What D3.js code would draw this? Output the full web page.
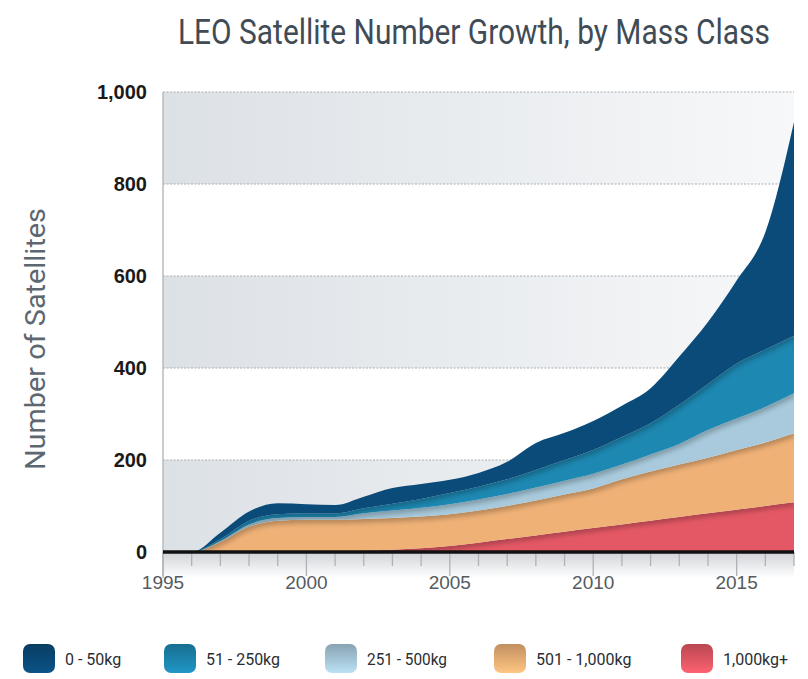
<!DOCTYPE html>
<html>
<head>
<meta charset="utf-8">
<script src="https://cdn.jsdelivr.net/npm/d3@7"></script>
<style>
  body { margin: 0; background: #fff; }
  svg { display: block; }
</style>
</head>
<body>
<svg width="808" height="679"></svg>
<script>
// years on the x axis
const years = d3.range(1995, 2018)

// satellites per mass class, per year
const heavy  = [0, 0, 0, 0, 0, 0, 0, 3, 5, 8, 13, 20, 28, 36, 44, 52, 60, 68, 76, 84, 92, 100, 108]
const large  = [0, 0, 22, 55, 68, 70, 70, 69, 69, 69, 69, 70, 72, 76, 81, 86, 98, 107, 114, 121, 130, 138, 150]
const medium = [0, 0, 2, 5, 6, 6, 6, 12, 16, 19, 22, 24, 26, 28, 30, 32, 32, 37, 45, 60, 68, 77, 87]
const small  = [0, 0, 4, 8, 8, 8, 8, 11, 15, 19, 24, 28, 32, 38, 45, 52, 60, 68, 85, 100, 120, 125, 125]
const tiny   = [0, 0, 14, 20, 24, 20, 18, 25, 34, 33, 29, 30, 38, 59, 59, 63, 68, 76, 105, 135, 180, 255, 465]

const yTicks = [0, 200, 400, 600, 800, 1000]
const xTicks = [1995, 2000, 2005, 2010, 2015]

const keys = ['heavy', 'large', 'medium', 'small', 'tiny']
const labels = ['1,000kg+', '501 - 1,000kg', '251 - 500kg', '51 - 250kg', '0 - 50kg']
const colors = ['#e45865', '#efb176', '#a8cadc', '#1d88b2', '#0a4b7a']

const table = years.map((yr, i) => ({
  year: yr, heavy: heavy[i], large: large[i], medium: medium[i], small: small[i], tiny: tiny[i]
}))

const svg = d3.select('svg')
const plotLeft = 163, plotRight = 794, plotTop = 92, plotBottom = 552
const narrow = 'Roboto, "Liberation Sans", sans-serif'

const x = d3.scaleLinear().domain([1995, 2017]).range([plotLeft, plotRight])
const y = d3.scaleLinear().domain([0, 1000]).range([plotBottom, plotTop])

const defs = svg.append('defs')

let band = defs.append('linearGradient').attr('id', 'band')
band.append('stop').attr('offset', '0%').attr('stop-color', '#dce1e6')
band.append('stop').attr('offset', '100%').attr('stop-color', '#f7f8f9')

let under = defs.append('linearGradient').attr('id', 'under')
    .attr('x1', 0).attr('x2', 0).attr('y1', 0).attr('y2', 1)
under.append('stop').attr('offset', '0%').attr('stop-color', '#cfd3d7')
under.append('stop').attr('offset', '100%').attr('stop-color', '#ffffff')

defs.append('filter').attr('id', 'blur')
    .attr('x', '-10%').attr('y', '-50%').attr('width', '120%').attr('height', '200%')
  .append('feGaussianBlur').attr('stdDeviation', 2.5)

colors.forEach((c, i) => {
  let g = defs.append('linearGradient').attr('id', 'sw' + i)
      .attr('x1', 0).attr('x2', 0).attr('y1', 0).attr('y2', 1)
  g.append('stop').attr('offset', '0%').attr('stop-color', d3.color(c).darker(0.6))
  g.append('stop').attr('offset', '100%').attr('stop-color', d3.color(c).brighter(0.3))
})

// squeeze a text horizontally so it takes a given width (a condensed look)
function condense(sel, width) {
  let natural = sel.node().getComputedTextLength()
  let k = Math.min(1, width / natural)
  let x0 = +sel.attr('x')
  sel.attr('transform', 'translate(' + x0 + ',0) scale(' + k + ',1) translate(' + (-x0) + ',0)')
}

// title
let title = svg.append('text')
    .attr('x', 178).attr('y', 44)
    .attr('font-family', narrow)
    .attr('font-size', 35)
    .attr('fill', '#404b55')
    .text('LEO Satellite Number Growth, by Mass Class')
condense(title, 592)

// grey bands: 1000-800, 600-400, 200-0
;[[800, 1000], [400, 600], [0, 200]].forEach(b => {
  svg.append('rect')
      .attr('x', plotLeft).attr('width', plotRight - plotLeft)
      .attr('y', y(b[1])).attr('height', y(b[0]) - y(b[1]))
      .attr('fill', 'url(#band)')
})

// shadow strip under the axis
svg.append('rect')
    .attr('x', plotLeft).attr('width', plotRight - plotLeft)
    .attr('y', plotBottom).attr('height', 26)
    .attr('fill', 'url(#under)')

// dashed grid
svg.append('g').selectAll('line')
  .data(yTicks.filter(d => d > 0))
  .enter().append('line')
    .attr('x1', plotLeft).attr('x2', plotRight)
    .attr('y1', d => y(d)).attr('y2', d => y(d))
    .attr('stroke', '#a9adb2')
    .attr('stroke-width', 1.2)
    .attr('stroke-dasharray', '2,1.5')

// left axis line
svg.append('line')
    .attr('x1', plotLeft).attr('x2', plotLeft)
    .attr('y1', plotTop).attr('y2', plotBottom + 26)
    .attr('stroke', '#b8bcc0').attr('stroke-width', 1.5)

// stacked areas
const series = d3.stack().keys(keys)(table)

const area = d3.area()
    .x(d => x(d.data.year))
    .y0(d => y(d[0]))
    .y1(d => y(d[1]))
    .curve(d3.curveMonotoneX)

const topLine = d3.line()
    .x(d => x(d.data.year))
    .y(d => y(d[1]))
    .curve(d3.curveMonotoneX)

series.forEach((s, i) => {
  defs.append('clipPath').attr('id', 'clip' + i)
    .append('path').attr('d', area(s))
})

let layers = svg.append('g')
series.forEach((s, i) => {
  layers.append('path')
      .attr('d', area(s))
      .attr('fill', colors[i])
  if (i < series.length - 1) {
    layers.append('g').attr('clip-path', 'url(#clip' + i + ')')
      .append('path')
        .attr('d', topLine(s))
        .attr('fill', 'none')
        .attr('stroke', '#000')
        .attr('stroke-opacity', 0.25)
        .attr('stroke-width', 7)
        .attr('filter', 'url(#blur)')
  }
})

// x axis
svg.append('g').selectAll('line')
  .data(years)
  .enter().append('line')
    .attr('x1', d => x(d)).attr('x2', d => x(d))
    .attr('y1', plotBottom)
    .attr('y2', d => d % 5 === 0 ? plotBottom + 24 : plotBottom + 14)
    .attr('stroke', '#aeb2b6').attr('stroke-width', 1.3)

svg.append('line')
    .attr('x1', plotLeft).attr('x2', plotRight)
    .attr('y1', plotBottom).attr('y2', plotBottom)
    .attr('stroke', '#111').attr('stroke-width', 3.5)

svg.append('g').selectAll('text')
  .data(xTicks)
  .enter().append('text')
    .attr('x', d => x(d)).attr('y', 589)
    .attr('text-anchor', 'middle')
    .attr('font-family', '"Liberation Sans", Arial, sans-serif')
    .attr('font-size', 19)
    .attr('fill', '#555b60')
    .text(d => d)

// y axis labels
svg.append('g').selectAll('text')
  .data(yTicks)
  .enter().append('text')
    .attr('x', 147).attr('y', d => y(d) + 7)
    .attr('text-anchor', 'end')
    .attr('font-family', '"Liberation Sans", Arial, sans-serif')
    .attr('font-weight', 'bold')
    .attr('font-size', 20)
    .attr('fill', '#1a1a1a')
    .text(d => d3.format(',')(d))

svg.append('text')
    .attr('transform', 'translate(45,470) rotate(-90)')
    .attr('font-family', narrow)
    .attr('font-size', 28)
    .attr('fill', '#5d6770')
    .attr('textLength', 262)
    .attr('lengthAdjust', 'spacingAndGlyphs')
    .text('Number of Satellites')

// legend, small to heavy
const legendX = [23, 164, 325, 494, 681]
const legendW = [58, 74, 80, 110, 72]
const order = [4, 3, 2, 1, 0]
let legend = svg.append('g')
order.forEach((k, j) => {
  legend.append('rect')
      .attr('x', legendX[j]).attr('y', 644)
      .attr('width', 32).attr('height', 29)
      .attr('rx', 7)
      .attr('fill', 'url(#sw' + k + ')')
  let t = legend.append('text')
      .attr('x', legendX[j] + 42).attr('y', 665)
      .attr('font-family', narrow)
      .attr('font-size', 16)
      .attr('fill', '#2a2e33')
      .text(labels[k])
  condense(t, legendW[j])
})
</script>
</body>
</html>
